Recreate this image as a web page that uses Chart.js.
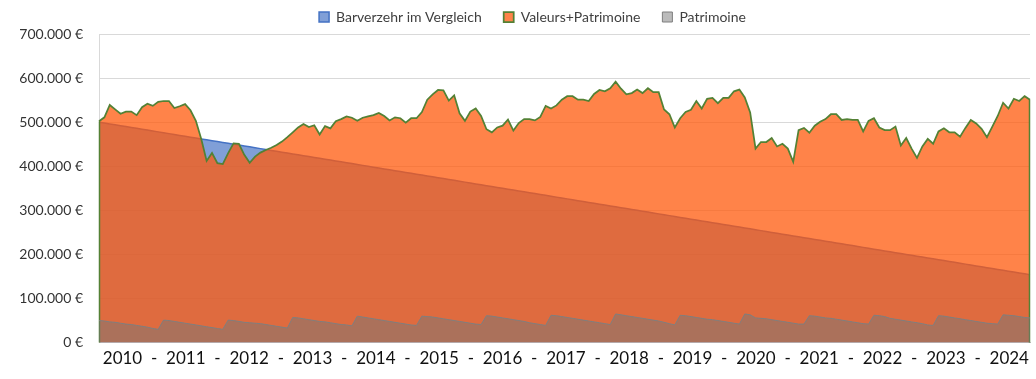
<!DOCTYPE html>
<html><head><meta charset="utf-8">
<script src="https://cdn.jsdelivr.net/npm/chart.js@4"></script>
<style>html,body{margin:0;padding:0;background:#fff}</style>
</head><body>
<canvas id="c" width="1036" height="379"></canvas>
<script>
// values in thousand euros, one per month (Jan 2010 – Jun 2024)
const years = [2010,2011,2012,2013,2014,2015,2016,2017,2018,2019,2020,2021,2022,2023,2024];
const monthNames = ['01','02','03','04','05','06','07','08','09','10','11','12'];
const months = years.flatMap(y => monthNames.map(m => m + '/' + y)).slice(0, 174);

const xTickLabels = ['2010','-','2011','-','2012','-','2013','-','2014','-','2015','-','2016','-','2017','-','2018','-','2019','-','2020','-','2021','-','2022','-','2023','-','2024'];

const barverzehr = [
500,498,496,494,492,490,488,486,484,482,
480,478,476,474,472,470,468,466,464,462,
460,458,456,454,452,450,448,446,444,442,
440,438,436,434,432,430,428,426,424,422,
420,418,416,414,412,410,408,406,404,402,
400,398,396,394,392,390,388,386,384,382,
380,378,376,374,372,370,368,366,364,362,
360,358,356,354,352,350,348,346,344,342,
340,338,336,334,332,330,328,326,324,322,
320,318,316,314,312,310,308,306,304,302,
300,298,296,294,292,290,288,286,284,282,
280,278,276,274,272,270,268,266,264,262,
260,258,256,254,252,250,248,246,244,242,
240,238,236,234,232,230,228,226,224,222,
220,218,216,214,212,210,208,206,204,202,
200,198,196,194,192,190,188,186,184,182,
180,178,176,174,172,170,168,166,164,162,
160,158,156,154];

const valeursPatrimoine = [
502,511,539,529,519,524,524,516,534,542,
537,546,548,548,532,536,541,527,503,462,
412,430,407,405,430,452,451,426,408,422,
431,437,442,448,456,466,477,488,496,489,
493,472,491,486,502,507,513,510,503,510,
513,516,521,514,504,511,509,499,509,509,
523,551,563,573,572,549,561,520,503,524,
531,514,484,477,488,492,506,481,498,507,
507,504,512,537,531,538,551,559,559,551,
551,548,564,573,570,577,592,576,563,566,
574,566,577,568,568,529,518,488,509,523,
528,548,531,553,555,543,555,555,570,574,
556,522,440,455,455,464,445,451,440,410,
482,487,476,492,501,507,518,518,505,507,
505,505,479,503,509,488,482,482,490,447,
464,440,419,445,462,451,479,486,477,477,
467,487,505,497,485,466,490,514,544,531,
553,548,559,551];

const patrimoine = [
50,49,47,46,44,42,41,39,37,35,32,30,
51,50,48,46,44,42,40,38,36,34,32,30,
51,50,48,46,45,44,43,41,39,37,35,33,
57,56,54,52,50,48,47,45,43,41,40,38,
60,58,56,54,52,50,48,46,44,42,40,39,
60,59,58,56,54,52,50,48,46,44,42,41,
61,60,58,56,54,52,50,48,45,43,41,39,
62,61,59,57,55,53,51,49,47,45,43,41,
65,63,61,59,57,55,53,51,49,46,43,40,
62,61,59,57,55,53,52,50,48,46,44,42,
65,63,56,55,54,52,50,48,46,44,42,42,
61,60,58,56,55,53,51,49,47,45,43,42,
62,61,59,55,53,51,49,47,45,43,40,39,
61,60,58,56,54,52,50,48,46,44,43,42,
63,62,61,59,57,56];

Chart.defaults.font.family = 'Lato';

const areaEdges = {
  id: 'areaEdges',
  afterLayout(chart) {
    // let the y tick labels use the space left of the axis box
    chart.scales.y.left = 0;
  },
  afterDatasetDraw(chart, args) {
    if (args.index !== 1) return;
    const pts = args.meta.data;
    const y0 = chart.scales.y.getPixelForValue(0);
    const c = chart.ctx;
    c.save();
    c.strokeStyle = '#538135';
    c.lineWidth = 1.5;
    c.beginPath();
    c.moveTo(pts[0].x + 0.5, pts[0].y); c.lineTo(pts[0].x + 0.5, y0);
    const l = pts[pts.length - 1];
    c.moveTo(l.x - 0.5, l.y); c.lineTo(l.x - 0.5, y0);
    c.stroke();
    c.restore();
  }
};

new Chart(document.getElementById('c'), {
  type: 'line',
  data: {
    labels: months,
    datasets: [
      { label: 'Barverzehr im Vergleich', data: barverzehr, backgroundColor: 'rgba(68,114,196,0.68)', borderColor: '#4472C4', borderWidth: 1.5, fill: 'origin', order: 3 },
      { label: 'Valeurs+Patrimoine', data: valeursPatrimoine, backgroundColor: 'rgba(255,90,12,0.75)', borderColor: '#538135', borderWidth: 1.75, fill: 'origin', order: 2 },
      { label: 'Patrimoine', data: patrimoine, backgroundColor: 'rgba(120,120,120,0.5)', borderColor: '#7F7F7F', borderWidth: 1, fill: 'origin', order: 1 }
    ]
  },
  options: {
    responsive: false,
    animation: false,
    elements: { point: { radius: 0 }, line: { tension: 0 } },
    layout: { padding: { top: -12, left: 35, right: 6, bottom: 4 } },
    plugins: {
      legend: {
        position: 'top',
        labels: {
          boxWidth: 10, boxHeight: 10, padding: 22,
          font: { size: 14 }, color: '#404040',
          sort: (a, b) => a.datasetIndex - b.datasetIndex
        }
      },
      tooltip: { enabled: false }
    },
    scales: {
      x: { display: false },
      xl: {
        type: 'linear', position: 'bottom',
        min: -0.742, max: 28.655,
        grid: { display: false, drawTicks: false },
        border: { display: true, color: '#BFBFBF', width: 1 },
        afterBuildTicks: (s) => { s.ticks = xTickLabels.map((_, k) => ({ value: k })); },
        ticks: {
          autoSkip: false, maxRotation: 0, padding: 6,
          font: { size: 17 }, color: '#111',
          callback: (v) => xTickLabels[v]
        }
      },
      y: {
        min: 0, max: 700,
        afterFit: (s) => { s.width = 64; },
        grid: { color: '#D9D9D9', drawTicks: false },
        border: { color: '#D9D9D9' },
        ticks: {
          stepSize: 100, padding: 16,
          font: { size: 14 }, color: '#333',
          callback: (v) => v === 0 ? '0 €' : v + '.000 €'
        }
      }
    }
  },
  plugins: [areaEdges]
});
</script>
</body></html>
